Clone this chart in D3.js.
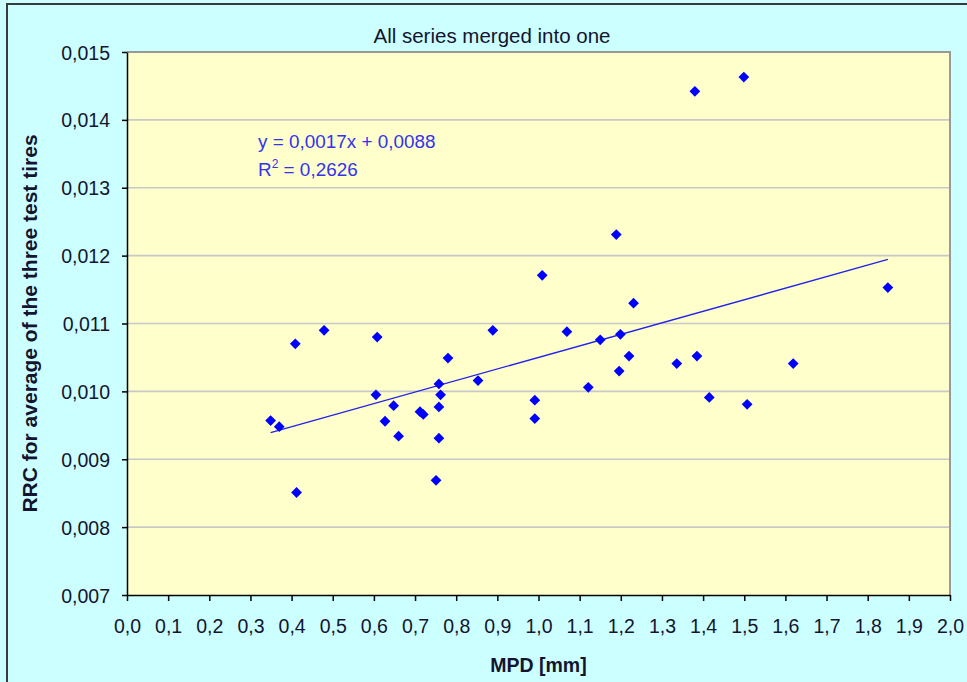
<!DOCTYPE html>
<html>
<head>
<meta charset="utf-8">
<script src="https://cdn.jsdelivr.net/npm/d3@7/dist/d3.min.js"></script>
<style>
  html, body { margin: 0; padding: 0; background: #ccffff; }
  svg { display: block; font-family: "Liberation Sans", Arial, sans-serif; }
</style>
</head>
<body>
<svg id="chart" width="967" height="682"></svg>
<script>
// MPD [mm] of each measured section
const mpd = [
  0.349, 0.370, 0.409, 0.412, 0.479, 0.608, 0.605, 0.627, 0.648, 0.660,
  0.712, 0.720, 0.751, 0.758, 0.762, 0.758, 0.758, 0.780, 0.853, 0.889,
  0.991, 0.991, 1.009, 1.069, 1.121, 1.150, 1.189, 1.196, 1.199, 1.220,
  1.231, 1.336, 1.380, 1.385, 1.415, 1.499, 1.507, 1.619, 1.849
];
// RRC averaged over the three test tires, same order as mpd
const rrc = [
  0.00957, 0.00948, 0.01070, 0.00851, 0.01090, 0.01080, 0.00995, 0.00956, 0.00979, 0.00934,
  0.00970, 0.00966, 0.00869, 0.01011, 0.00995, 0.00977, 0.00931, 0.01049, 0.01016, 0.01090,
  0.00987, 0.00960, 0.01171, 0.01088, 0.01006, 0.01076, 0.01231, 0.01030, 0.01084, 0.01052,
  0.01130, 0.01041, 0.01442, 0.01052, 0.00991, 0.01463, 0.00981, 0.01041, 0.01153
];
// linear trendline coefficients and fit quality
const slope = 0.0017;
const intercept = 0.0088;
const rSquared = "0,2626";

const xTicks = d3.range(0, 21).map(i => i / 10);
const yTicks = d3.range(7, 16).map(i => i / 1000);

const comma = s => s.replace(".", ",");
const fmtX = v => comma(d3.format(".1f")(v));
const fmtY = v => comma(d3.format(".3f")(v));

const svg = d3.select("#chart");
const W = 967, H = 682;
const plot = { left: 127, right: 950, top: 52, bottom: 595 };

const x = d3.scaleLinear().domain([0, 2]).range([plot.left, plot.right]);
const y = d3.scaleLinear().domain([0.007, 0.015]).range([plot.bottom, plot.top]);

// chart area with frame
svg.append("rect").attr("x", 0).attr("y", 0).attr("width", W).attr("height", H).attr("fill", "#ccffff");
svg.append("rect").attr("x", 7).attr("y", 4).attr("width", W + 20).attr("height", H + 20)
  .attr("fill", "none").attr("stroke", "#3a3a3a").attr("stroke-width", 2);

// plot area
svg.append("rect")
  .attr("x", plot.left).attr("y", plot.top)
  .attr("width", plot.right - plot.left).attr("height", plot.bottom - plot.top)
  .attr("fill", "#ffffcc");

// horizontal gridlines
svg.append("g").selectAll("line")
  .data(yTicks.filter(v => v > 0.007 && v < 0.015))
  .join("line")
  .attr("x1", plot.left).attr("x2", plot.right)
  .attr("y1", d => y(d)).attr("y2", d => y(d))
  .attr("stroke", "#c8c8c8").attr("stroke-width", 1.6);

// plot border (top and right)
svg.append("path")
  .attr("d", `M${plot.left},${plot.top}H${plot.right}V${plot.bottom}`)
  .attr("fill", "none").attr("stroke", "#999999").attr("stroke-width", 2);

// axes
const xAxis = d3.axisBottom(x).tickValues(xTicks).tickFormat(fmtX).tickSizeInner(6).tickSizeOuter(0).tickPadding(18);
const yAxis = d3.axisLeft(y).tickValues(yTicks).tickFormat(fmtY).tickSizeInner(5).tickSizeOuter(0).tickPadding(12);

const gx = svg.append("g").attr("transform", `translate(0,${plot.bottom})`).call(xAxis);
const gy = svg.append("g").attr("transform", `translate(${plot.left},0)`).call(yAxis);

[gx, gy].forEach(g => {
  g.select(".domain").attr("stroke", "#000").attr("stroke-width", 1.5);
  g.selectAll(".tick line").attr("stroke", "#000").attr("stroke-width", 1.5);
  g.selectAll(".tick text")
    .attr("fill", "#141430")
    .style("font-size", "19.5px")
    .style("font-family", "'Liberation Sans', Arial, sans-serif");
});
gy.selectAll(".tick text").attr("dy", "0.36em");

// trendline across the data extent
const [xMin, xMax] = d3.extent(mpd);
svg.append("line")
  .attr("x1", x(xMin)).attr("y1", y(slope * xMin + intercept))
  .attr("x2", x(xMax)).attr("y2", y(slope * xMax + intercept))
  .attr("stroke", "#2020ee").attr("stroke-width", 1.3);

// data points as diamonds
const diamond = d3.symbol().type(d3.symbolSquare).size(58);
svg.append("g").selectAll("path")
  .data(d3.zip(mpd, rrc))
  .join("path")
  .attr("d", diamond)
  .attr("transform", d => `translate(${x(d[0])},${y(d[1])}) rotate(45)`)
  .attr("fill", "#0000ff");

// trendline equation
const eq = svg.append("g").attr("fill", "#3333ee").style("font-size", "18.9px");
eq.append("text").attr("x", 258).attr("y", 148).text("y = 0,0017x + 0,0088");
const r2 = eq.append("text").attr("x", 258).attr("y", 176);
r2.append("tspan").text("R");
r2.append("tspan").attr("dy", -8).style("font-size", "12px").text("2");
r2.append("tspan").attr("dy", 8).text(" = " + rSquared);

// title
svg.append("text")
  .attr("x", 492).attr("y", 43)
  .attr("text-anchor", "middle")
  .attr("fill", "#141430")
  .style("font-size", "20.5px")
  .text("All series merged into one");

// axis titles
svg.append("text")
  .attr("x", (plot.left + plot.right) / 2).attr("y", 672)
  .attr("text-anchor", "middle")
  .attr("fill", "#141430")
  .style("font-size", "19.5px").style("font-weight", "bold")
  .text("MPD [mm]");

svg.append("text")
  .attr("transform", `translate(37,${(plot.top + plot.bottom) / 2}) rotate(-90)`)
  .attr("text-anchor", "middle")
  .attr("fill", "#141430")
  .style("font-size", "21px").style("font-weight", "bold")
  .text("RRC for average of the three test tires");
</script>
</body>
</html>
